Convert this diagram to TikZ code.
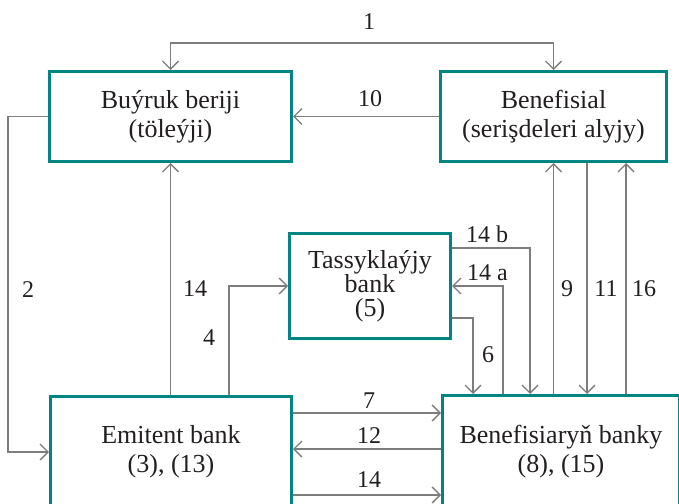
\documentclass[tikz,border=0pt]{standalone}
\usepackage{fontspec}
\setmainfont{Liberation Serif}
\usetikzlibrary{arrows.meta}
\definecolor{tealbox}{RGB}{0,133,131}
\definecolor{linegray}{RGB}{125,125,125}
\definecolor{txt}{RGB}{35,31,32}
\begin{document}
\begin{tikzpicture}[x=1pt,y=-1pt,
  >={Straight Barb[length=8pt,width=16pt]},
  box/.style={draw=tealbox,line width=3pt,inner sep=0pt,align=center,
    font=\fontsize{26}{29}\selectfont,text=txt},
  conn/.style={draw=linegray,line width=1.3pt},
  lbl/.style={font=\fontsize{24}{26}\selectfont,text=txt,inner sep=0pt}]
\clip (0,0) rectangle (679,503);
\fill[white] (0,0) rectangle (679,503);
% boxes
\node[box,minimum width=242pt,minimum height=90pt] (buy) at (170.5,116.5) {Buýruk beriji\\(töleýji)};
\node[box,minimum width=226pt,minimum height=90pt] (ben) at (553.5,116.5) {Benefisial\\(serişdeleri alyjy)};
\node[box,minimum width=161pt,minimum height=105pt,font=\fontsize{26}{24}\selectfont] (tas) at (370,286) {Tassyklaýjy\\bank\\(5)};
\node[box,minimum width=241pt,minimum height=111pt] (emi) at (171,452) {Emitent bank\\(3), (13)};
\node[box,minimum width=237pt,minimum height=112pt] (bank) at (561,451.5) {Benefisiaryň banky\\(8), (15)};
% helper coordinates
\coordinate (y1) at (0,43);
\coordinate (b11) at ([xshift=33.5pt]ben.south);
\coordinate (b16) at ([xshift=72.5pt]ben.south);
\coordinate (h7) at ([yshift=39pt]emi.east);
\coordinate (h12) at ([yshift=3pt]emi.east);
\coordinate (h14) at ([yshift=-43pt]emi.east);
% connectors
\draw[conn,<->] (buy.north) -- (buy.north |- y1) -- (ben.north |- y1) -- (ben.north);
\draw[conn,->] (ben.west) -- (buy.east);
\draw[conn,->] (buy.west) -- ++(-40,0) |- (emi.west);
\draw[conn,->] (emi.north -| buy.south) -- (buy.south);
\draw[conn,->] ([xshift=58pt]emi.north) |- (tas.west);
\draw[conn,->] ([yshift=38pt]tas.east) -| ([xshift=-31pt]bank.north);
\draw[conn,->] ([xshift=-58pt]bank.north) |- (tas.east);
\draw[conn,->] ([yshift=-32pt]tas.east) -| ([xshift=-88pt]bank.north);
\draw[conn,->] (bank.north -| ben.south) -- (ben.south);
\draw[conn,->] (b11) -- (b11 |- bank.north);
\draw[conn,<-] (b16) -- (b16 |- bank.north);
\draw[conn,->] (h7) -- (h7 -| bank.west);
\draw[conn,<-] (h12) -- (h12 -| bank.west);
\draw[conn,->] (h14) -- (h14 -| bank.west);
% labels
\node[lbl] (l1) at (369,22) {1};
\node[lbl] (l10) at (370,99) {10};
\node[lbl] (l2) at (28,290) {2};
\node[lbl] (l14v) at (195,289) {14};
\node[lbl] (l4) at (209,337.5) {4};
\node[lbl] (l14b) at (487,234) {14 b};
\node[lbl] (l14a) at (487.5,272.5) {14 a};
\node[lbl] (l6) at (488,355) {6};
\node[lbl] (l9) at (567,289) {9};
\node[lbl] (l11) at (606,289) {11};
\node[lbl] (l16) at (644,289) {16};
\node[lbl] (l7) at (369,401) {7};
\node[lbl] (l12) at (369,436) {12};
\node[lbl] (l14h) at (369,480) {14};
\end{tikzpicture}
\end{document}
